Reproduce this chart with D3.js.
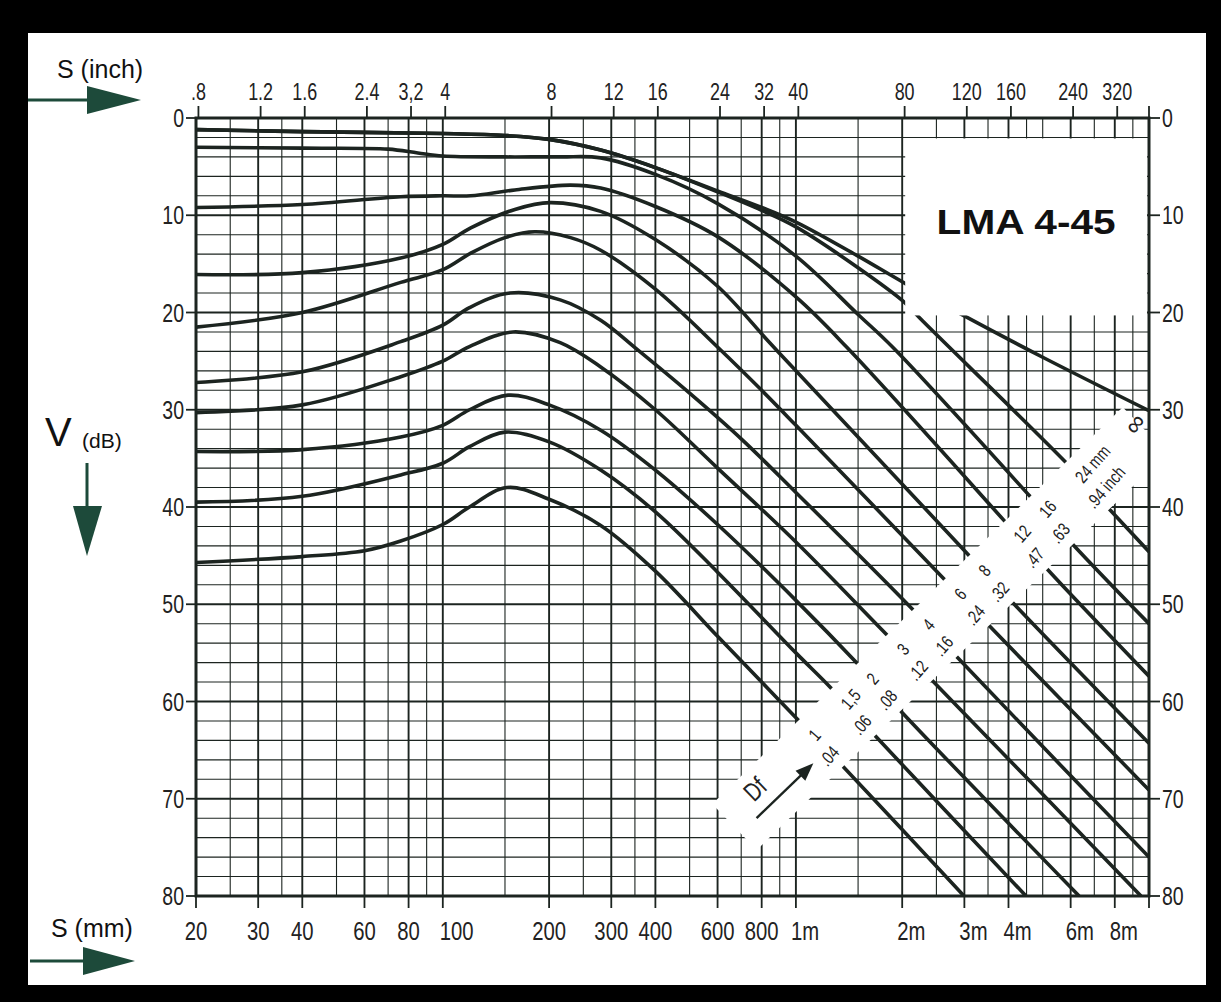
<!DOCTYPE html>
<html><head><meta charset="utf-8">
<script src="https://cdn.jsdelivr.net/npm/d3@7"></script>
<style>body{margin:0;background:#000;} svg{display:block}</style>
</head><body>
<svg id="c" width="1221" height="1002"></svg>
<script>
// ---------------- data ----------------
const mmTicks = [20,30,40,60,80,100,200,300,400,600,800,1000,2000,3000,4000,6000,8000];
const mmTickLabels = ["20","30","40","60","80","100","200","300","400","600","800","1m","2m","3m","4m","6m","8m"];
const inchTicks = [0.8,1.2,1.6,2.4,3.2,4,8,12,16,24,32,40,80,120,160,240,320];
const inchTickLabels = [".8","1.2","1.6","2.4","3,2","4","8","12","16","24","32","40","80","120","160","240","320"];
const dbTicks = [0,10,20,30,40,50,60,70,80];
const gridMajorMm = [30,40,60,80,100,200,300,400,600,800,1000,2000,3000,4000,6000,8000];
const gridMinorMm = [25,35,50,70,90,150,250,350,500,700,900,1500,2500,3500,4500,5000,7000,9000];
const dfMmLabels = ["1","1,5","2","3","4","6","8","12","16","24 mm"];
const dfInchLabels = [".04",".06",".08",".12",".16",".24",".32",".47",".63",".94 inch"];

const curveInf = [[20,1.2],[40,1.4],[100,1.6],[150,1.8],[200,2.2],[280,3.3],[400,5.1],[600,7.5],[800,9.2],[1000,10.7],[1500,14.2],[2037,17.0],[3053,20.5],[5000,24.6],[10000,30.1]];
const curveDf1 = [[20,45.7],[40,45.1],[60,44.5],[76,43.5],[100,41.8],[119,40.0],[152,38.0],[200,39.2],[280,41.9],[400,46.6],[600,53.3],[800,58.0],[1015,61.9],[1362,66.7],[2993,80]];
const curveDf1_5 = [[20,39.5],[40,38.9],[76,36.7],[100,35.5],[119,33.8],[150,32.3],[200,33.3],[280,36.2],[400,40.5],[600,46.7],[1000,55.0],[1249,58.5],[1664,63.4],[4484,80]];
const curveDf2 = [[20,34.3],[40,34.1],[76,32.8],[100,31.6],[119,30.0],[153,28.5],[200,29.5],[280,32.1],[400,36.2],[600,41.8],[1000,49.6],[1502,56.2],[1995,61.1],[6340,80]];
const curveDf3 = [[20,30.3],[40,29.5],[76,26.6],[100,25.0],[119,23.5],[158,22.0],[215,23.1],[280,25.6],[400,30.0],[600,36.0],[1000,43.6],[1827,53.3],[2425,57.8],[9490,80]];
const curveDf4 = [[20,27.2],[40,26.1],[76,23.0],[100,21.3],[119,19.5],[155,18.0],[215,18.7],[280,20.8],[355,23.8],[500,28.3],[700,33.0],[1000,38.5],[2150,50.6],[2855,55.4],[10000,76.0]];
const curveDf6 = [[20,21.5],[40,20.0],[76,16.9],[100,15.6],[120,13.9],[150,12.3],[182,11.7],[230,12.3],[280,13.6],[400,17.6],[610,23.8],[800,28.0],[1000,31.6],[2644,47.5],[3546,52.3],[10000,69.1]];
const curveDf8 = [[20,16.1],[40,15.9],[76,14.4],[100,13.0],[120,11.3],[160,9.4],[201,8.7],[280,9.6],[400,12.5],[600,17.3],[828,22.8],[1000,26.0],[3078,44.9],[4127,49.9],[10000,64.3]];
const curveDf12 = [[20,9.2],[40,8.9],[76,8.1],[100,8.0],[120,8.0],[160,7.4],[230,6.9],[280,7.2],[400,9.1],[600,12.2],[1000,18.4],[1396,23.6],[3866,41.3],[5185,46.5],[10000,57.4]];
const curveDf16 = [[20,3.0],[40,3.1],[70,3.2],[85,3.6],[100,3.9],[150,4.0],[215,4.0],[280,4.1],[400,5.8],[600,8.8],[1000,14.2],[1500,20.2],[1884,23.6],[4602,38.9],[6106,43.9],[10000,52.0]];
const curveDf24 = [[20,1.2],[40,1.4],[100,1.6],[150,1.8],[200,2.2],[280,3.3],[400,5.1],[600,7.6],[800,9.5],[1000,11.2],[1500,15.4],[2037,19.0],[2246,20.6],[5847,35.5],[7667,40.1],[10000,44.6]];
const dfCurves = [curveDf1,curveDf1_5,curveDf2,curveDf3,curveDf4,curveDf6,curveDf8,curveDf12,curveDf16,curveDf24];

// ---------------- drawing ----------------
const svg = d3.select("#c");
const ink = "#1c2420", green = "#1d4a3a";
const sans = "'Liberation Sans',Arial,sans-serif";
const NARROW = 0.78;

const x = d3.scaleLog().domain([20,10000]).range([196,1149]);
const y = d3.scaleLinear().domain([0,80]).range([118,896]);
const [X0,X1] = x.range(), [Y0,Y1] = y.range();

svg.append("rect").attr("width",1221).attr("height",1002).attr("fill","#000");
svg.append("rect").attr("x",28).attr("y",33).attr("width",1178).attr("height",952).attr("fill","#fff");

const defs = svg.append("defs");
defs.append("clipPath").attr("id","plot").append("rect")
  .attr("x",X0).attr("y",Y0).attr("width",X1-X0).attr("height",Y1-Y0);

// grid
const grid = svg.append("g").attr("stroke",ink).attr("fill","none");
grid.selectAll("line.h").data(d3.range(2,80,2)).join("line").attr("class","h")
  .attr("x1",X0).attr("x2",X1).attr("y1",d=>y(d)).attr("y2",d=>y(d))
  .attr("stroke-width",d=>d%10===0?2:1.1);
grid.selectAll("line.vmin").data(gridMinorMm).join("line").attr("class","vmin")
  .attr("x1",d=>x(d)).attr("x2",d=>x(d)).attr("y1",Y0).attr("y2",Y1).attr("stroke-width",1.1);
grid.selectAll("line.vmaj").data(gridMajorMm).join("line").attr("class","vmaj")
  .attr("x1",d=>x(d)).attr("x2",d=>x(d)).attr("y1",Y0).attr("y2",Y1).attr("stroke-width",1.9);

// curves
const line = d3.line().x(d=>x(d[0])).y(d=>y(d[1])).curve(d3.curveCatmullRom.alpha(0.5));
const curvesG = svg.append("g").attr("clip-path","url(#plot)");
curvesG.selectAll("path.df").data(dfCurves).join("path").attr("class","df")
  .attr("d",line).attr("fill","none").attr("stroke",ink).attr("stroke-width",3.6)
  .attr("stroke-linejoin","round");

// label band
const bandFrom=[670,72.9], bandTo=[9742,32.1], bandHalf=32;
const P0=[x(bandFrom[0]),y(bandFrom[1])], P1=[x(bandTo[0]),y(bandTo[1])];
const blen=Math.hypot(P1[0]-P0[0],P1[1]-P0[1]);
const ux=(P1[0]-P0[0])/blen, uy=(P1[1]-P0[1])/blen, nx=-uy, ny=ux;
const ang=Math.atan2(uy,ux)*180/Math.PI;
const bandPts=[[P0[0]-nx*bandHalf,P0[1]-ny*bandHalf],[P1[0]-nx*bandHalf,P1[1]-ny*bandHalf],
  [P1[0]+nx*bandHalf,P1[1]+ny*bandHalf],[P0[0]+nx*bandHalf,P0[1]+ny*bandHalf]];
svg.append("polygon").attr("clip-path","url(#plot)").attr("points",bandPts.map(p=>p.join(",")).join(" "))
  .attr("fill","#fff");

// infinity curve (above band)
svg.append("path").attr("clip-path","url(#plot)").attr("d",line(curveInf))
  .attr("fill","none").attr("stroke",ink).attr("stroke-width",3.6);

// LMA box
const bx0=x(2000)+3, bx1=X1-2, by0=y(2)+1, by1=y(20.3);
svg.append("rect").attr("x",bx0).attr("y",by0).attr("width",bx1-bx0).attr("height",by1-by0).attr("fill","#fff");
svg.append("text").attr("x",(bx0+bx1)/2).attr("y",y(11.9)).attr("text-anchor","middle")
  .attr("font-family",sans).attr("font-weight","bold").attr("font-size",35)
  .attr("textLength",179).attr("lengthAdjust","spacingAndGlyphs").attr("fill","#111").text("LMA 4-45");

// frame
svg.append("rect").attr("x",X0).attr("y",Y0).attr("width",X1-X0).attr("height",Y1-Y0)
  .attr("fill","none").attr("stroke",ink).attr("stroke-width",3);

// ticks
const tk = svg.append("g").attr("stroke",ink).attr("stroke-width",1.8);
tk.selectAll("line.l").data(dbTicks).join("line").attr("class","l")
  .attr("x1",X0-10).attr("x2",X0).attr("y1",d=>y(d)).attr("y2",d=>y(d));
tk.selectAll("line.r").data(dbTicks).join("line").attr("class","r")
  .attr("x1",X1).attr("x2",X1+11).attr("y1",d=>y(d)).attr("y2",d=>y(d));
tk.selectAll("line.t").data(inchTicks.concat([10000/25.4])).join("line").attr("class","t")
  .attr("x1",d=>x(d*25.4)).attr("x2",d=>x(d*25.4)).attr("y1",Y0-12).attr("y2",Y0);
tk.selectAll("line.b").data(mmTicks.concat([10000])).join("line").attr("class","b")
  .attr("x1",d=>x(d)).attr("x2",d=>x(d)).attr("y1",Y1).attr("y2",Y1+12);

// narrow text helper: place at (px,py) and compress horizontally
function ntext(g, px, py, str, size, anchor, extra){
  return g.append("text").attr("transform",`translate(${px},${py}) ${extra||""} scale(${NARROW},1)`)
    .attr("text-anchor",anchor||"start").attr("font-size",size).text(str);
}
const lab = svg.append("g").attr("fill","#222").attr("font-family",sans);
dbTicks.forEach(d=>{
  ntext(lab, X0-12, y(d)+9, String(d), 25, "end");
  ntext(lab, X1+13, y(d)+9, String(d), 25, "start");
});
inchTicks.forEach((d,i)=>ntext(lab, x(d*25.4), Y0-18, inchTickLabels[i], 23, "middle"));
mmTicks.forEach((d,i)=>{
  const s=mmTickLabels[i];
  if(s.endsWith("m")) ntext(lab, x(d)-5, Y1+44, s, 26, "start");
  else if(s==="100") ntext(lab, x(d)-3, Y1+44, s, 26, "start");
  else ntext(lab, x(d), Y1+44, s, 26, "middle");
});

// band labels
const bandG = svg.append("g").attr("transform",`translate(${P0[0]},${P0[1]}) rotate(${ang})`)
  .attr("font-family",sans).attr("fill","#222");
dfCurves.forEach((c,i)=>{
  const pts=c.map(d=>[x(d[0]),y(d[1])]);
  const side=p=>ux*(p[1]-P0[1])-uy*(p[0]-P0[0]);
  for(let k=0;k<pts.length-1;k++){
    const s1=side(pts[k]), s2=side(pts[k+1]);
    if(s1<0 && s2>=0 || s1>0 && s2<=0){
      const f=s1/(s1-s2);
      const px=pts[k][0]+f*(pts[k+1][0]-pts[k][0]), py=pts[k][1]+f*(pts[k+1][1]-pts[k][1]);
      const t=(px-P0[0])*ux+(py-P0[1])*uy;
      ntext(bandG, t-2, -4, dfMmLabels[i], 18, "start", "rotate(-5)");
      ntext(bandG, t-12, 22, dfInchLabels[i], 18, "start", "rotate(-5)");
      break;
    }
  }
});
ntext(bandG, 41, -4, "Df", 26, "middle");
bandG.append("line").attr("x1",22).attr("y1",9).attr("x2",88).attr("y2",9).attr("stroke",ink).attr("stroke-width",2.4);
bandG.append("path").attr("d","M83,2 L101,9 L83,16 Z").attr("fill",ink);
bandG.append("text").attr("x",blen-3).attr("y",-12).attr("dy","0.35em").attr("text-anchor","middle")
  .attr("font-size",26).attr("transform",`rotate(-10,${blen-3},-12)`).text("∞");

// axis titles & arrows
const tt = svg.append("g").attr("font-family",sans).attr("fill","#111");
tt.append("text").attr("x",57).attr("y",78).attr("font-size",25).text("S (inch)");
tt.append("text").attr("x",51).attr("y",937).attr("font-size",25).text("S (mm)");
tt.append("text").attr("x",45).attr("y",446).attr("font-size",40).text("V");
tt.append("text").attr("x",82).attr("y",448).attr("font-size",21).text("(dB)");

const ar = svg.append("g").attr("fill",green).attr("stroke",green);
ar.append("line").attr("x1",28).attr("y1",100).attr("x2",90).attr("y2",100).attr("stroke-width",3);
ar.append("path").attr("d","M87,86 L141,100 L87,114 Z").attr("stroke","none");
ar.append("line").attr("x1",30).attr("y1",961).attr("x2",86).attr("y2",961).attr("stroke-width",3);
ar.append("path").attr("d","M83,947 L135,961 L83,975 Z").attr("stroke","none");
ar.append("line").attr("x1",87).attr("y1",463).attr("x2",87).attr("y2",510).attr("stroke-width",3);
ar.append("path").attr("d","M73,506 L102,506 L87,556 Z").attr("stroke","none");
</script>
</body></html>
